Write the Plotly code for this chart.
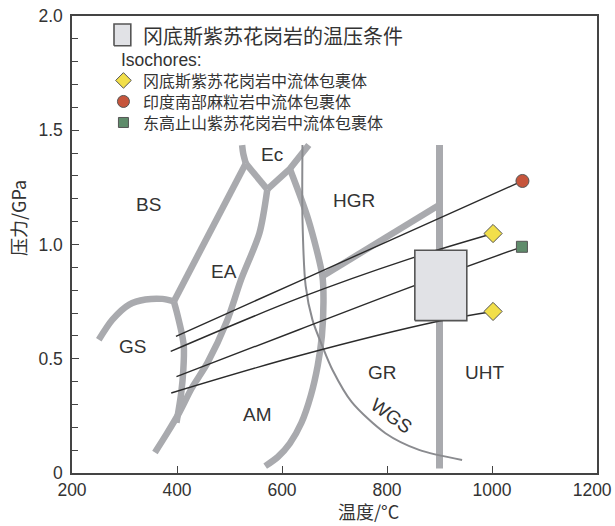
import plotly.graph_objects as go

# ---------------- data (T in °C, P in GPa) ----------------
gs_bs_T = [251, 277, 309, 340, 372, 394]
gs_bs_P = [0.583, 0.671, 0.737, 0.759, 0.762, 0.751]

bs_ea_T = [394, 531]
bs_ea_P = [0.751, 1.355]

ec_left_T = [531, 526, 524]
ec_left_P = [1.355, 1.40, 1.435]

ec_mid_T = [531, 572]
ec_mid_P = [1.355, 1.241]

ec_right_T = [572, 615, 651]
ec_right_P = [1.241, 1.331, 1.435]

ea_am_T = [572, 557, 522, 495, 458, 428, 404, 380, 358]
ea_am_P = [1.241, 1.05, 0.846, 0.664, 0.482, 0.371, 0.263, 0.17, 0.09]

gs_am_T = [394, 400, 410, 413, 412, 408, 399]
gs_am_P = [0.751, 0.70, 0.60, 0.554, 0.45, 0.35, 0.22]

am_gr_T = [615, 650, 677, 679, 676, 668, 655, 637, 615, 592, 568]
am_gr_P = [1.331, 1.11, 0.861, 0.75, 0.60, 0.47, 0.34, 0.22, 0.13, 0.07, 0.03]

hgr_low_T = [677, 897]
hgr_low_P = [0.861, 1.17]

uht_T = [900, 900]
uht_P = [0.02, 1.435]

wgs_T = [639, 639, 645, 658, 677, 696, 733, 797, 861, 943]
wgs_P = [1.435, 1.11, 0.82, 0.67, 0.554, 0.452, 0.31, 0.174, 0.101, 0.057]

# isochores
iso_circle_T = [398, 632, 1058]
iso_circle_P = [0.598, 0.839, 1.278]
iso_dia_hi_T = [388, 632, 840, 1002]
iso_dia_hi_P = [0.532, 0.765, 0.935, 1.048]
iso_square_T = [399, 632, 823, 1057]
iso_square_P = [0.422, 0.627, 0.795, 0.99]
iso_dia_lo_T = [389, 632, 900, 1002]
iso_dia_lo_P = [0.350, 0.513, 0.665, 0.707]

# granite P-T box
box_T = [853, 952, 952, 853, 853]
box_P = [0.667, 0.667, 0.975, 0.975, 0.667]

# region labels
region_names = ["BS", "Ec", "HGR", "EA", "GS", "GR", "UHT", "AM"]
region_T = [346, 580, 738, 490, 316, 792, 985, 554]
region_P = [1.174, 1.396, 1.194, 0.884, 0.554, 0.44, 0.44, 0.258]

# legend
legend_box_T = [280, 312, 312, 280, 280]
legend_box_P = [1.870, 1.870, 1.965, 1.965, 1.870]
legend_title = "冈底斯紫苏花岗岩的温压条件"
legend_items = ["冈底斯紫苏花岗岩中流体包裹体", "印度南部麻粒岩中流体包裹体", "东高止山紫苏花岗岩中流体包裹体"]
legend_item_P = [1.718, 1.626, 1.534]

x_ticks = [200, 400, 600, 800, 1000, 1200]
x_ticktext = ["200", "400", "600", "800", "1000", "1200\u00a0\u00a0"]
y_ticks = [0, 0.5, 1.0, 1.5, 2.0]
y_ticktext = ["0", "0.5", "1.0", "1.5", "2.0"]

# ---------------- styling ----------------
GRAY = "#a9aaae"
THIN = "#8a8b8f"
INK = "#2b2b2b"
TXT = "#333333"
SANS = "Liberation Sans, Arial, sans-serif"
CJK = "Noto Sans CJK SC, sans-serif"

YEL = "#f2df4a"
RED = "#c6553c"
GRN = "#5f8c6b"

fig = go.Figure()


def thick(T, P, w=6.5, shape="linear"):
    fig.add_trace(go.Scatter(x=T, y=P, mode="lines",
                             line=dict(color=GRAY, width=w, shape=shape, smoothing=0.8),
                             hoverinfo="skip", showlegend=False))


thick(gs_bs_T, gs_bs_P, shape="spline")
thick(bs_ea_T, bs_ea_P)
thick(ec_left_T, ec_left_P, shape="spline")
thick(ec_mid_T, ec_mid_P)
thick(ec_right_T, ec_right_P)
thick(ea_am_T, ea_am_P, shape="spline")
thick(gs_am_T, gs_am_P, shape="spline")
thick(am_gr_T, am_gr_P, shape="spline")
thick(hgr_low_T, hgr_low_P)
thick(uht_T, uht_P, w=7)

fig.add_trace(go.Scatter(x=wgs_T, y=wgs_P, mode="lines",
                         line=dict(color=THIN, width=2, shape="spline", smoothing=0.8),
                         hoverinfo="skip", showlegend=False))

for T, P in [(iso_circle_T, iso_circle_P), (iso_dia_hi_T, iso_dia_hi_P),
             (iso_square_T, iso_square_P), (iso_dia_lo_T, iso_dia_lo_P)]:
    fig.add_trace(go.Scatter(x=T, y=P, mode="lines",
                             line=dict(color=INK, width=1.4, shape="spline", smoothing=1.0),
                             hoverinfo="skip", showlegend=False))

# box on top of lines
fig.add_trace(go.Scatter(x=box_T, y=box_P, mode="lines", fill="toself",
                         fillcolor="#e1e2e6", line=dict(color="#555555", width=1.6),
                         hoverinfo="skip", showlegend=False))

# end markers
fig.add_trace(go.Scatter(x=[iso_circle_T[-1]], y=[iso_circle_P[-1]], mode="markers",
                         marker=dict(symbol="circle", size=13, color=RED,
                                     line=dict(color="#555555", width=1)),
                         showlegend=False))
fig.add_trace(go.Scatter(x=[iso_dia_hi_T[-1], iso_dia_lo_T[-1]],
                         y=[iso_dia_hi_P[-1], iso_dia_lo_P[-1]], mode="markers",
                         marker=dict(symbol="diamond", size=14, color=YEL,
                                     line=dict(color="#555555", width=1)),
                         showlegend=False))
fig.add_trace(go.Scatter(x=[iso_square_T[-1]], y=[iso_square_P[-1]], mode="markers",
                         marker=dict(symbol="square", size=11, color=GRN,
                                     line=dict(color="#555555", width=1)),
                         showlegend=False))

# legend drawing
fig.add_trace(go.Scatter(x=legend_box_T, y=legend_box_P, mode="lines", fill="toself",
                         fillcolor="#e1e2e6", line=dict(color="#555555", width=1.6),
                         hoverinfo="skip", showlegend=False))
leg_sym = ["diamond", "circle", "square"]
leg_col = [YEL, RED, GRN]
leg_size = [12, 12, 10]
for s, c, sz, p in zip(leg_sym, leg_col, leg_size, legend_item_P):
    fig.add_trace(go.Scatter(x=[298], y=[p], mode="markers",
                             marker=dict(symbol=s, size=sz, color=c,
                                         line=dict(color="#555555", width=1)),
                             showlegend=False))

annotations = []
annotations.append(dict(x=331, y=1.916, xref="x", yref="y", text=legend_title,
                        showarrow=False, xanchor="left", yanchor="middle",
                        font=dict(family=CJK, size=20, color=TXT)))
annotations.append(dict(x=289, y=1.806, xref="x", yref="y", text="Isochores:",
                        showarrow=False, xanchor="left", yanchor="middle",
                        font=dict(family=SANS, size=17.5, color=TXT)))
for name, p in zip(legend_items, legend_item_P):
    annotations.append(dict(x=331, y=p, xref="x", yref="y", text=name,
                            showarrow=False, xanchor="left", yanchor="middle",
                            font=dict(family=CJK, size=16, color=TXT)))

for name, t, p in zip(region_names, region_T, region_P):
    annotations.append(dict(x=t, y=p, xref="x", yref="y", text=name, showarrow=False,
                            xanchor="center", yanchor="middle",
                            font=dict(family=SANS, size=19, color=TXT)))
annotations.append(dict(x=808, y=0.253, xref="x", yref="y", text="WGS", showarrow=False,
                        textangle=36, xanchor="center", yanchor="middle",
                        font=dict(family=SANS, size=19, color=TXT)))

# axis titles (pixel positions converted to paper fractions)
L, R, T_, B = 72, 18, 16, 53
W, H = 615, 526
pw, ph = W - L - R, H - T_ - B


def px_to_paper(px, py):
    return (px - L) / pw, ((H - py) - B) / ph


xt_x, xt_y = px_to_paper(368, 511)
yt_x, yt_y = px_to_paper(18, 218)
annotations.append(dict(x=xt_x, y=xt_y, xref="paper", yref="paper", text="温度/°C",
                        showarrow=False, xanchor="center", yanchor="middle",
                        font=dict(family=CJK, size=18, color=TXT)))
annotations.append(dict(x=yt_x, y=yt_y, xref="paper", yref="paper", text="压力/GPa",
                        showarrow=False, xanchor="center", yanchor="middle", textangle=-90,
                        font=dict(family=CJK, size=18, color=TXT)))

fig.update_layout(
    width=W, height=H,
    margin=dict(l=L, r=R, t=T_, b=B, autoexpand=False),
    paper_bgcolor="white", plot_bgcolor="white",
    showlegend=False,
    annotations=annotations,
    xaxis=dict(range=[200, 1200], tickvals=x_ticks, ticktext=x_ticktext,
               ticks="inside", ticklen=7,
               tickcolor="#444", tickwidth=1.3, automargin=False,
               ticklabeloverflow="allow",
               showline=True, linecolor="#444", linewidth=1.5, mirror=True,
               showgrid=False, zeroline=False,
               tickfont=dict(family=SANS, size=17.5, color=TXT)),
    yaxis=dict(range=[0, 2.0], tickvals=y_ticks, ticktext=y_ticktext,
               ticks="inside", ticklen=7, tickcolor="#444", tickwidth=1.3,
               automargin=False, ticklabeloverflow="allow",
               minor=dict(dtick=0.1, ticks="inside", ticklen=6, tickcolor="#444", tickwidth=1.1),
               showline=True, linecolor="#444", linewidth=1.5, mirror=True,
               showgrid=False, zeroline=False, ticklabelstandoff=4,
               tickfont=dict(family=SANS, size=17.5, color=TXT)),
)

fig.write_html("out.html", config={"displayModeBar": False},
               post_script="document.body.style.margin='0';document.body.style.overflow='hidden';")
